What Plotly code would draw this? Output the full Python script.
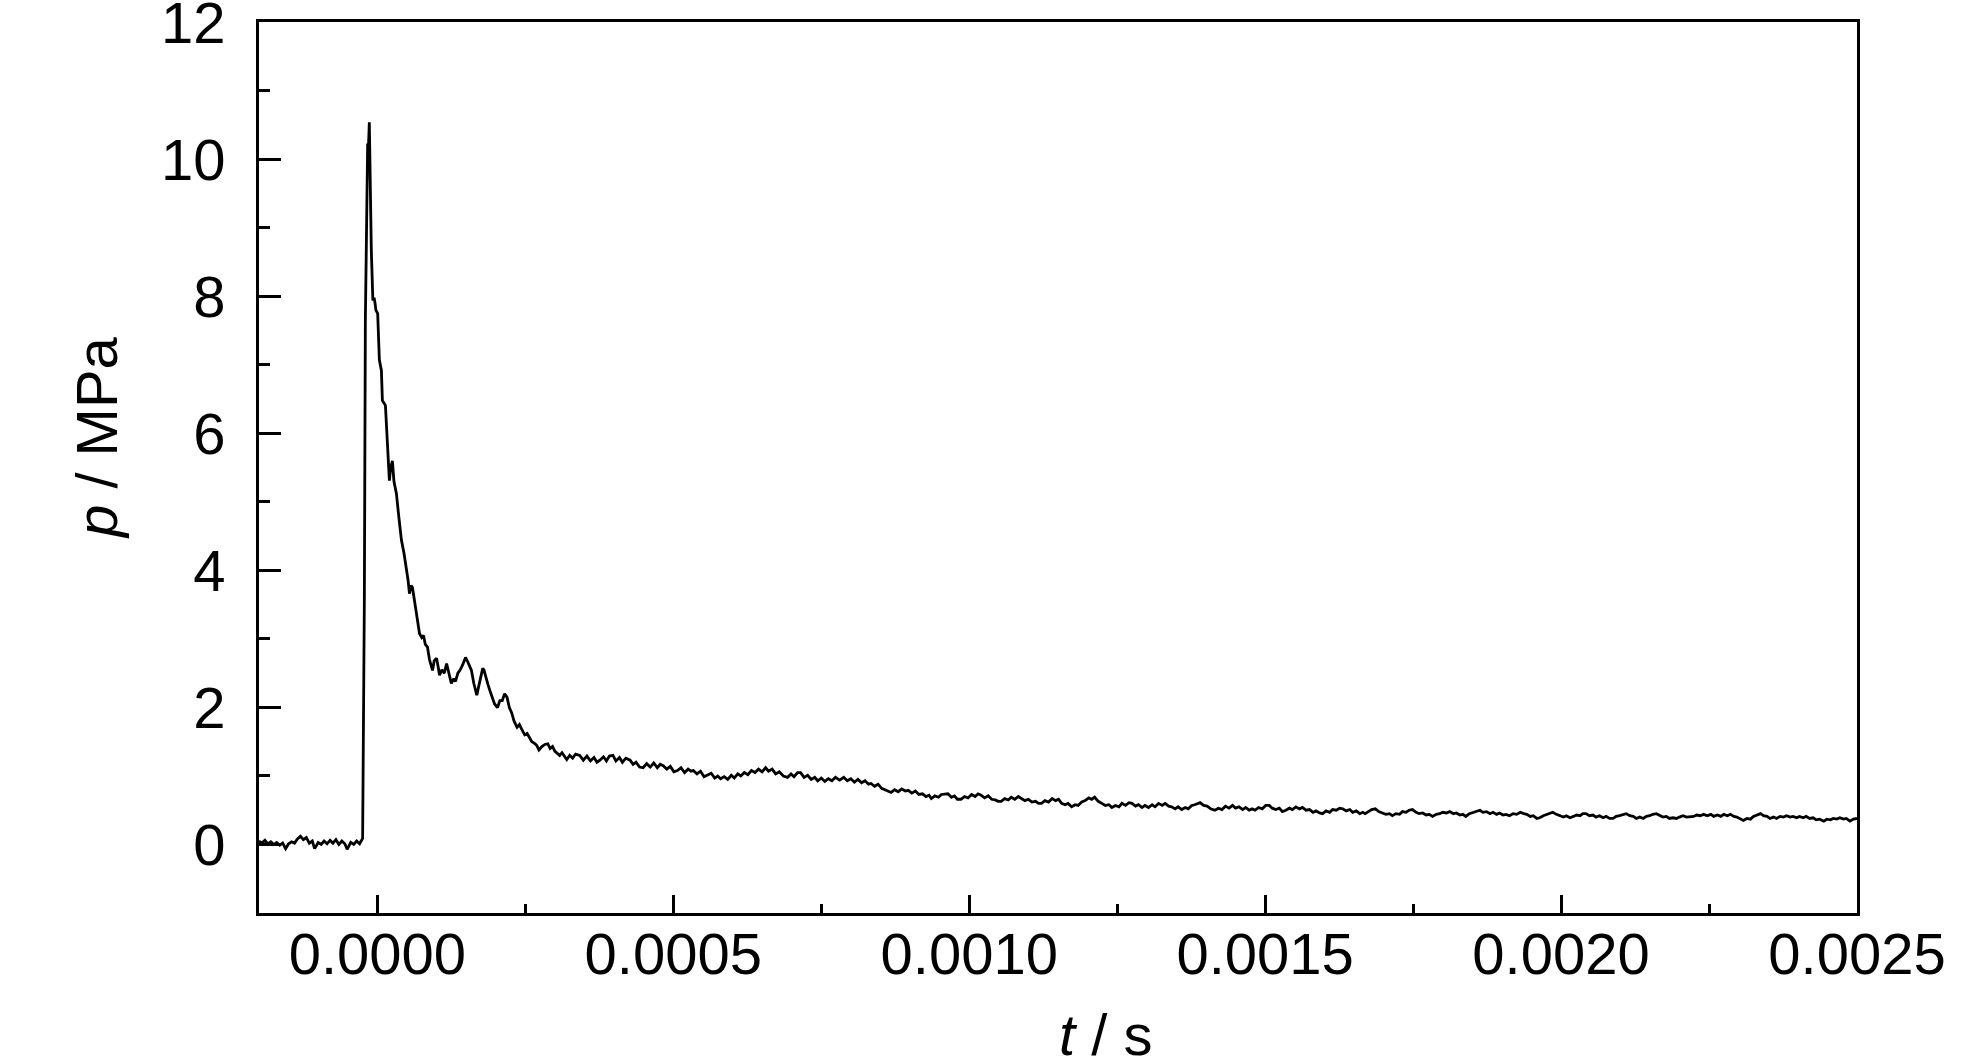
import plotly.graph_objects as go

# time in microseconds, pressure in MPa
t_us = [
 -200,-195,-190,-185,-180,-175,-170,-165,-160,-155,-150,-145,-140,-135,-130,-125,-120,-115,-110,-106,
 -100,-95,-90,-85,-80,-75,-70,-65,-60,-55,-51,-45,-40,-35,-30,-27,
 -24.9,-22,-20.3,-16.4,-15.3,-13.6,-12.4,-10.2,-7.6,-5.5,-3.9,-2.5,0.5,3.4,6.8,8.5,13.6,17,20.3,22.5,25.4,28,32.2,36,
 40.7,45,49.2,52,54.2,57,59.3,62.7,66,71.2,75,78,81,84.7,88,91,93.2,96,100,103,105,109,113,117,121,125,129,132,136,140,
 144,149,153,156,159,163,166,168,171,175,178,180,184,187,190,194,198,203,207,211,215,219,223,227,231,236,240,244,249,253,
 257,261,265,269,273,278,283,288,292,296,300,303,308,312,316,320,325,330,335,342,348,354,360,366,371,376,382,387,392,398,
 403,409,414,420,427,432,437,443,449,455,461,467,473,478,483,489,495,501,507,513,519,525,530,534,540,546,552,558,564,570,
 575,580,586,592,598,603,609,614,620,626,632,638,644,650,656,661,667,673,679,686,693,699,704,710,715,721,727,733,739,744,
 750,756,762,768,774,781,788,794,800,806,812,818,824,830,834,840,846,852,858,864,868,874,880,886,892,897,903,909,915,921,
 927,932,936,942,948,953,959,964,970,975,980,986,992,998,1004,1010,1015,1020,1026,1032,1038,1044,1049,1054,1060,1066,1071,1077,1083,1088,
 1094,1100,1106,1112,1117,1122,1128,1134,1140,1146,1151,1156,1162,1167,1173,1179,1184,1190,1196,1202,1207,1212,1218,1224,1230,1236,1241,1247,1253,1258,
 1264,1270,1275,1281,1286,1292,1297,1303,1309,1314,1320,1326,1331,1337,1342,1348,1353,1359,1365,1370,1376,1381,1387,1390,1396,1402,1408,1415,1421,1427,
 1433,1439,1445,1450,1456,1462,1467,1473,1478,1483,1489,1495,1501,1507,1512,1518,1524,1529,1535,1541,1546,1552,1558,1563,1569,1575,1581,1586,1592,1597,
 1603,1609,1614,1620,1626,1631,1637,1643,1648,1654,1660,1665,1669,1675,1680,1686,1692,1698,1704,1710,1715,1721,1727,1732,1738,1743,1749,1755,1760,1766,
 1772,1777,1783,1789,1795,1800,1806,1812,1818,1823,1829,1834,1839,1845,1851,1857,1863,1868,1874,1880,1885,1891,1896,1902,1907,1913,1919,1925,1931,1937,
 1942,1948,1953,1959,1964,1970,1976,1981,1986,1992,1998,2004,2009,2015,2021,2026,2032,2037,2042,2048,2054,2059,2065,2071,2076,2082,2088,2093,2099,2105,
 2110,2116,2122,2127,2133,2139,2144,2150,2155,2161,2167,2172,2178,2183,2189,2195,2200,2206,2212,2218,2224,2229,2235,2241,2247,2253,2258,2264,2270,2275,
 2281,2286,2292,2297,2303,2308,2314,2320,2325,2331,2337,2342,2348,2353,2359,2364,2370,2376,2381,2387,2392,2398,2403,2409,2414,2420,2426,2431,2437,2444,
 2449,2455,2460,2466,2471,2477,2482,2488,2494,2500]

p_mpa = [
 0.05,0.02,0.06,0.01,0.04,0.00,0.03,-0.01,0.02,-0.06,0.01,0.04,0.02,0.08,0.12,0.07,0.10,0.02,0.05,-0.06,
 0.03,0.00,0.05,0.01,0.06,0.02,0.07,0.00,0.05,0.01,-0.07,0.03,0.00,0.05,0.01,0.06,
 0.09,3.56,7.65,10.23,10.13,10.54,9.5,8.67,7.94,7.98,7.9,7.8,7.75,7.07,6.92,6.48,6.41,5.9,5.31,5.5,5.6,5.3,5.12,4.8,
 4.44,4.25,4.04,3.85,3.66,3.78,3.75,3.56,3.35,3.08,3.02,3.05,2.92,2.88,2.7,2.62,2.54,2.68,2.72,2.58,2.47,2.55,2.5,2.64,2.5,2.35,2.42,2.38,2.5,2.55,
 2.62,2.73,2.66,2.6,2.54,2.35,2.22,2.18,2.3,2.45,2.57,2.55,2.4,2.33,2.25,2.15,2.05,2.0,2.1,2.1,2.2,2.15,2.0,1.92,1.8,1.71,1.75,1.68,1.6,1.62,
 1.56,1.5,1.48,1.45,1.38,1.43,1.46,1.47,1.4,1.43,1.36,1.34,1.3,1.34,1.28,1.24,1.3,1.26,1.32,1.3,1.23,1.29,1.22,1.27,1.2,1.23,1.28,1.22,1.29,1.3,
 1.22,1.27,1.2,1.26,1.23,1.17,1.2,1.13,1.12,1.18,1.13,1.19,1.12,1.17,1.15,1.1,1.14,1.06,1.08,1.12,1.05,1.1,1.07,1.08,1.03,1.07,0.99,1.01,1.04,0.97,
 1.0,0.96,0.99,0.95,1.01,0.97,1.03,1.0,1.05,1.02,1.08,1.05,1.1,1.06,1.12,1.07,1.1,1.03,1.06,1.0,0.98,1.03,0.99,1.05,1.05,0.98,1.01,0.95,0.98,0.93,
 0.97,0.92,0.96,0.93,0.98,0.94,0.98,0.93,0.96,0.91,0.95,0.9,0.93,0.88,0.89,0.85,0.88,0.82,0.8,0.77,0.76,0.8,0.77,0.81,0.78,0.79,0.75,0.78,0.73,0.74,
 0.7,0.72,0.67,0.71,0.69,0.73,0.74,0.74,0.69,0.71,0.66,0.66,0.7,0.68,0.73,0.7,0.74,0.72,0.68,0.71,0.66,0.65,0.63,0.63,0.67,0.65,0.69,0.66,0.7,0.67,
 0.64,0.66,0.62,0.63,0.6,0.6,0.64,0.62,0.67,0.64,0.66,0.6,0.58,0.6,0.55,0.58,0.57,0.62,0.64,0.68,0.66,0.69,0.63,0.6,0.57,0.58,0.54,0.57,0.55,0.6,
 0.57,0.61,0.6,0.56,0.58,0.54,0.57,0.54,0.58,0.55,0.6,0.57,0.6,0.56,0.55,0.52,0.55,0.51,0.54,0.52,0.57,0.58,0.6,0.61,0.57,0.56,0.52,0.5,0.53,0.51,
 0.56,0.53,0.57,0.53,0.55,0.51,0.54,0.5,0.52,0.5,0.54,0.52,0.57,0.57,0.53,0.51,0.53,0.48,0.5,0.53,0.51,0.55,0.52,0.54,0.5,0.51,0.47,0.49,0.46,0.45,
 0.49,0.47,0.51,0.5,0.53,0.52,0.49,0.51,0.47,0.49,0.45,0.47,0.45,0.49,0.51,0.52,0.48,0.46,0.44,0.45,0.42,0.45,0.44,0.48,0.47,0.5,0.51,0.47,0.45,0.46,
 0.43,0.44,0.41,0.44,0.45,0.47,0.46,0.48,0.45,0.46,0.43,0.44,0.41,0.45,0.47,0.48,0.5,0.47,0.48,0.45,0.47,0.44,0.46,0.43,0.44,0.42,0.45,0.44,0.47,0.45,
 0.44,0.41,0.42,0.38,0.39,0.42,0.44,0.46,0.47,0.44,0.42,0.4,0.42,0.39,0.41,0.43,0.42,0.45,0.45,0.42,0.43,0.4,0.42,0.39,0.41,0.38,0.38,0.41,0.42,0.44,
 0.45,0.42,0.41,0.38,0.4,0.38,0.41,0.42,0.44,0.45,0.42,0.4,0.41,0.38,0.39,0.38,0.4,0.42,0.4,0.41,0.41,0.43,0.42,0.44,0.42,0.44,0.41,0.43,0.41,0.44,
 0.42,0.44,0.41,0.4,0.37,0.35,0.38,0.37,0.41,0.43,0.45,0.42,0.41,0.38,0.4,0.38,0.41,0.4,0.42,0.4,0.41,0.39,0.41,0.39,0.41,0.38,0.39,0.36,0.37,0.34,
 0.37,0.36,0.38,0.37,0.39,0.37,0.38,0.34,0.37,0.38]

x_tick_vals = [0.0, 0.0005, 0.0010, 0.0015, 0.0020, 0.0025]
y_tick_vals = [0, 2, 4, 6, 8, 10, 12]

t_s = [v * 1e-6 for v in t_us]

FONT = "Liberation Sans Narrow, Arial Narrow, Liberation Sans, Arial, sans-serif"
FS = 58

fig = go.Figure()
fig.add_trace(go.Scatter(x=t_s, y=p_mpa, mode="lines",
                         line=dict(color="black", width=2.8), showlegend=False))

axis_common = dict(showline=True, linecolor="black", linewidth=3, mirror=True,
                   showgrid=False, zeroline=False, ticks="inside", tickwidth=3,
                   tickcolor="black", ticklabeloverflow="allow", automargin=False,
                   tickfont=dict(family=FONT, size=FS, color="black"))

fig.update_xaxes(range=[-0.0002, 0.0025], tickvals=x_tick_vals, tickformat=".4f",
                 ticklen=18, ticklabelstandoff=-12,
                 minor=dict(ticks="inside", dtick=0.00025, tick0=0, ticklen=9,
                            tickwidth=3, tickcolor="black"),
                 **axis_common)
fig.update_yaxes(range=[-1, 12.005], tickvals=y_tick_vals, tickformat="d",
                 ticklen=22, ticklabelstandoff=19,
                 minor=dict(ticks="inside", dtick=1, tick0=0, ticklen=11,
                            tickwidth=3, tickcolor="black"),
                 **axis_common)

L, R, T, B = 259, 127, 22, 150
W, H = 1984, 1063
pw, ph = W - L - R, H - T - B

fig.add_annotation(text="<i>t</i> / s", xref="paper", yref="paper",
                   x=(1105 - L) / pw, y=-(1034 - (H - B)) / ph,
                   xanchor="center", yanchor="middle", showarrow=False,
                   font=dict(family=FONT, size=FS, color="black"))
fig.add_annotation(text="<i>p</i> / MPa", xref="paper", yref="paper",
                   x=(96 - L) / pw, y=((H - B) - 438) / ph,
                   xanchor="center", yanchor="middle", showarrow=False, textangle=-90,
                   font=dict(family=FONT, size=FS, color="black"))

fig.update_layout(width=W, height=H, margin=dict(l=L, r=R, t=T, b=B, autoexpand=False),
                  paper_bgcolor="white", plot_bgcolor="white")
fig.write_html("out.html", config={"displayModeBar": False},
               post_script="document.body.style.margin='0';document.body.style.overflow='hidden';")
